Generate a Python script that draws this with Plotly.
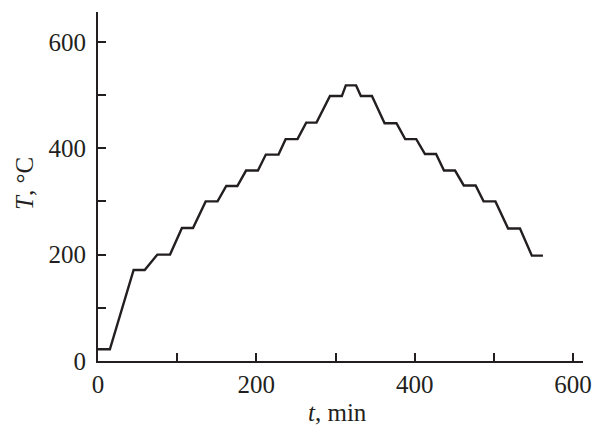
import plotly.graph_objects as go

t_min = [0, 15, 45, 59, 75, 91, 106, 120, 136, 151, 162, 176, 187, 202, 212, 228,
         237, 252, 263, 276, 293, 308, 313, 326, 332, 346, 362, 377, 388, 402, 413,
         427, 437, 451, 462, 477, 487, 502, 518, 533, 548, 562]
T_c = [22, 22, 171, 171, 200, 200, 250, 250, 300, 300, 329, 329, 358, 358, 388, 388,
       417, 417, 448, 448, 498, 498, 518, 518, 498, 498, 447, 447, 417, 417, 389,
       389, 358, 358, 330, 330, 300, 300, 249, 249, 198, 198]

tick_vals = [0, 100, 200, 300, 400, 500, 600]
tick_text = ["0", "", "200", "", "400", "", "600"]

ink = "#231f20"
font = dict(family="Liberation Serif, Times New Roman, serif", size=25, color=ink)

W, H = 596, 429
l, r, t, b = 98, 13, 12, 68
pw, ph = W - l - r, H - t - b


def px_to_paper(px, py):
    return (px - l) / pw, 1 - (py - t) / ph


fig = go.Figure()
fig.add_trace(go.Scatter(x=t_min, y=T_c, mode="lines",
                         line=dict(color=ink, width=2.4), showlegend=False))

axis_common = dict(showgrid=False, zeroline=False, showline=True, linecolor=ink,
                   linewidth=2, ticks="inside", ticklen=8, tickwidth=1.5,
                   tickcolor=ink, tickfont=font, tickvals=tick_vals,
                   ticktext=tick_text, automargin=False)

fig.update_xaxes(range=[0, 612.6], **axis_common)
fig.update_yaxes(range=[0, 656], ticklabelstandoff=5, **axis_common)

xa, ya = px_to_paper(337, 412)
fig.add_annotation(text="<i>t</i>, min", x=xa, y=ya, xref="paper", yref="paper",
                   xanchor="center", yanchor="middle",
                   showarrow=False, font=font)
xa, ya = px_to_paper(24, 184)
fig.add_annotation(text="<i>T</i>, °C", x=xa, y=ya, xref="paper", yref="paper",
                   xanchor="center", yanchor="middle",
                   showarrow=False, font=font, textangle=-90)

fig.update_layout(width=W, height=H, margin=dict(l=l, r=r, t=t, b=b),
                  plot_bgcolor="white", paper_bgcolor="white", font=font)

fig.write_html("out.html", config={"displayModeBar": False},
               post_script="document.body.style.margin='0';document.body.style.overflow='hidden';")
